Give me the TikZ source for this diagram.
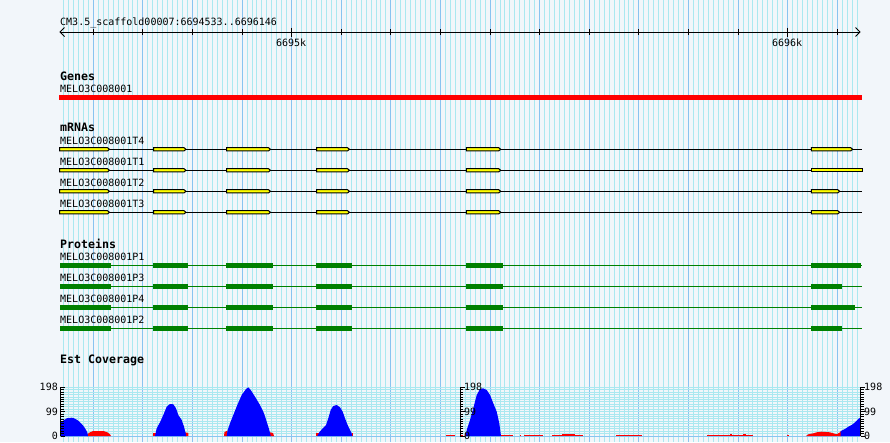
\documentclass[tikz,border=0pt]{standalone}
\usepackage{fontspec}
\newfontfamily\mono{DejaVu Sans Mono}
\definecolor{bg}{RGB}{242,246,250}
\definecolor{gridc}{RGB}{170,232,240}
\definecolor{gridd}{RGB}{136,196,240}
\definecolor{pgreen}{RGB}{0,128,0}
\definecolor{covblue}{RGB}{0,0,255}
\definecolor{covred}{RGB}{255,0,0}
\definecolor{exony}{RGB}{255,255,0}
\newcommand\exonbox[3]{\filldraw[exonst] (#1,{#3-1.6}) -- (#2,{#3-1.6}) -- ({#2+2},{#3}) -- (#2,{#3+1.6}) -- (#1,{#3+1.6}) -- cycle;}
\newcommand\exonflat[3]{\filldraw[exonst] (#1,{#3-1.6}) rectangle (#2,{#3+1.6});}
\newcommand\protbar[3]{\fill[pgreen] (#1,{#3-2.5}) rectangle (#2,{#3+2.5});}
\newcommand\covaxis[1]{%
  \draw[axisst] (#1,387.3) -- (#1,436);
  \foreach \k in {0,...,20} \draw[tickst] (#1,{387.3+2.435*\k}) -- ++(3,0);
  \foreach \k in {0,10,20} \draw[tickst] (#1,{387.3+2.435*\k}) -- ++(4.5,0);}
\begin{document}
\begin{tikzpicture}[x=1pt,y=-1pt,
  lab/.style={inner sep=0pt,anchor=base west,font=\mono\fontsize{10}{12}\selectfont},
  hdr/.style={inner sep=0pt,anchor=base west,font=\mono\bfseries\fontsize{11.6}{13}\selectfont},
  axlab/.style={inner sep=0pt,font=\mono\fontsize{10}{12}\selectfont},
  vgrid/.style={gridc,line width=1pt},
  dgrid/.style={gridd,line width=1pt},
  hgrid/.style={gridc,line width=1pt},
  blk/.style={black,line width=1pt},
  exonst/.style={fill=exony,draw=black,line width=1pt},
  axisst/.style={black,line width=1pt},
  tickst/.style={black,line width=0.9pt},
  redseg/.style={fill=covred}]
\useasboundingbox (0,0) rectangle (890,442);
\fill[bg] (0,0) rectangle (890,442);
% vertical grid
\foreach \k in {-46,...,114} \draw[vgrid] ({291.7+4.96*\k},0) -- ({291.7+4.96*\k},442);
\foreach \k in {-4,...,11} \draw[dgrid] ({291.7+49.6*\k},0) -- ({291.7+49.6*\k},442);
% coverage horizontal grid
\foreach \k in {0,...,20} \draw[hgrid] (60,{387.3+2.435*\k}) -- (860,{387.3+2.435*\k});
\draw[dgrid] (60,436) -- (860,436);
% ruler
\node[lab] (title) at (60,25) {CM3.5\_scaffold00007:6694533..6696146};
\draw[blk] (60,32) -- (860,32);
\draw[blk] (64.5,27.5) -- (60,32) -- (64.5,36.5);
\draw[blk] (855.5,27.5) -- (860,32) -- (855.5,36.5);
\foreach \k in {-4,...,11} \draw[blk] ({291.7+49.6*\k},29.3) -- ({291.7+49.6*\k},34.8);
\draw[blk] (291.7,27.5) -- (291.7,37);
\draw[blk] (787.7,27.5) -- (787.7,37);
\node[axlab,anchor=base] (k1) at (291.2,46.5) {6695k};
\node[axlab,anchor=base] (k2) at (787.2,46.5) {6696k};
% genes
\node[hdr] (genes) at (60,80) {Genes};
\node[lab] (g1) at (60,92.3) {MELO3C008001};
\fill[covred] (59,95) rectangle (862,100.2);
% mRNAs
\node[hdr] (mrnas) at (60,131.5) {mRNAs};
\node[lab] (t4) at (60,144) {MELO3C008001T4};
\node[lab] (t1) at (60,165) {MELO3C008001T1};
\node[lab] (t2) at (60,186) {MELO3C008001T2};
\node[lab] (t3) at (60,207) {MELO3C008001T3};
\foreach \y in {149.3,170.3,191.3,212.3} {
  \draw[blk] (59,\y) -- (862,\y);
  \exonbox{59.5}{107.5}{\y}
  \exonbox{153.5}{184}{\y}
  \exonbox{226.7}{268.5}{\y}
  \exonbox{316.5}{347.5}{\y}
  \exonbox{466.3}{498.7}{\y}
}
\exonbox{811.3}{850.7}{149.3}
\exonflat{811.3}{862}{170.3}
\exonbox{811.3}{837.7}{191.3}
\exonbox{811.3}{837.7}{212.3}
% proteins
\node[hdr] (prots) at (60,248.3) {Proteins};
\node[lab] (p1) at (60,260) {MELO3C008001P1};
\node[lab] (p3) at (60,281) {MELO3C008001P3};
\node[lab] (p4) at (60,302) {MELO3C008001P4};
\node[lab] (p2) at (60,323) {MELO3C008001P2};
\foreach \y in {265.8,286.8,307.8,328.8} {
  \draw[pgreen,line width=1pt] (60,\y) -- (862,\y);
  \protbar{60}{111}{\y}
  \protbar{153}{188}{\y}
  \protbar{226}{273}{\y}
  \protbar{316}{351.5}{\y}
  \protbar{466}{503}{\y}
}
\protbar{811}{861}{265.8}
\protbar{811}{842}{286.8}
\protbar{811}{855}{307.8}
\protbar{811}{842}{328.8}
% coverage
\node[hdr] (est) at (60,363.3) {Est Coverage};
% red bits
\fill[covred] (87,436) -- (87.3,434.3) -- (90,432.3) -- (93.3,431) -- (103.3,431) -- (107.3,432.3) -- (110,434.3) -- (111,436) -- cycle;
\fill[covred] (153.3,436) -- (153.3,432.5) -- (156,432.5) -- (156,436) -- cycle;
\fill[covred] (185,436) -- (185,432.3) -- (188.3,433) -- (188.3,436) -- cycle;
\fill[covred] (224,436) -- (224.5,432) -- (227.5,430.5) -- (227.5,436) -- cycle;
\fill[covred] (270,436) -- (270,432.3) -- (273,433) -- (274,436) -- cycle;
\fill[covred] (316,436) -- (316,432.5) -- (318.5,432.5) -- (318.5,436) -- cycle;
\fill[covred] (351.5,436) -- (351.5,432.5) -- (353,432.5) -- (353,436) -- cycle;
\fill[covred] (465,436) -- (465,432.5) -- (467,432.5) -- (467,436) -- cycle;
\foreach \a/\b in {446/455,460/463,501/513.3,520/521,524/543.3,551.7/583.3,616/641.7,706.7/753.3,786.7/789}
  \fill[redseg] (\a,434.5) rectangle (\b,436);
\fill[redseg] (561.7,433.5) rectangle (575,436);
\fill[redseg] (729.5,433.5) rectangle (731.5,436);
\fill[redseg] (742.5,433.5) rectangle (746,436);
\fill[covred] (806,436) -- (808.3,434.3) -- (813.3,433.3) -- (816.7,432.3) -- (821.7,431.7) -- (830,432.3) -- (833.3,433.3) -- (836.7,434.3) -- (840,432.3) -- (841,431) -- (841,436) -- cycle;
% blue shapes
\fill[covblue] (60,436) -- (60,423.3) -- (62.7,421) -- (66.7,418.3) -- (71.7,417.7) -- (74,418.3) -- (77.3,420) -- (80,422.3) -- (82.7,425) -- (85,428.3) -- (87.3,432.3) -- (88,436) -- cycle;
\fill[covblue] (155,436) -- (156.7,428.3) -- (160,422.3) -- (163.3,415) -- (166.7,406.7) -- (170,404) -- (173.3,404.3) -- (176,408.3) -- (178.3,415) -- (181.7,420) -- (184,426.7) -- (185.7,433.3) -- (186,436) -- cycle;
\fill[covblue] (226.7,436) -- (227.7,430) -- (230,423.3) -- (233.3,415) -- (237.3,405) -- (241.7,395) -- (246,389) -- (248.3,387.3) -- (250.7,390) -- (255,396.7) -- (260,405) -- (264,413.3) -- (266.7,421.7) -- (269.3,430) -- (270.7,436) -- cycle;
\fill[covblue] (317.3,436) -- (319.3,432.3) -- (322.7,428.3) -- (326,425) -- (328.3,418.3) -- (330.7,410) -- (333.3,406) -- (336.7,405) -- (340,407.3) -- (342.7,411.7) -- (345,418.3) -- (347.3,424.3) -- (350,430) -- (351.7,433.3) -- (352.3,436) -- cycle;
\fill[covblue] (465.7,436) -- (466.7,430) -- (470,420) -- (473.3,408.3) -- (476.7,395) -- (480,389) -- (483.3,388.3) -- (486.7,390) -- (490,395) -- (493.3,403.3) -- (496.7,411.7) -- (499.3,423.3) -- (501,436) -- cycle;
\fill[covblue] (840.7,436) -- (840.7,431) -- (845,429) -- (848.3,426.7) -- (851.7,425) -- (855,422.3) -- (858.3,419) -- (860,417.7) -- (860,436) -- cycle;
% axes
\covaxis{60.5}
\covaxis{460}
\covaxis{860.5}
\node[axlab,anchor=base east] (l198) at (58,390.9) {198};
\node[axlab,anchor=base east] (l99) at (58,415.3) {99};
\node[axlab,anchor=base east] (l0) at (58,439.6) {0};
\node[axlab,anchor=base west] (m198) at (464,390.9) {198};
\node[axlab,anchor=base west] (m99) at (464,415.3) {99};
\node[axlab,anchor=base west] (m0) at (464,439.6) {0};
\node[axlab,anchor=base west] (r198) at (864,390.9) {198};
\node[axlab,anchor=base west] (r99) at (864,415.3) {99};
\node[axlab,anchor=base west] (r0) at (864,439.6) {0};
\end{tikzpicture}
\end{document}
